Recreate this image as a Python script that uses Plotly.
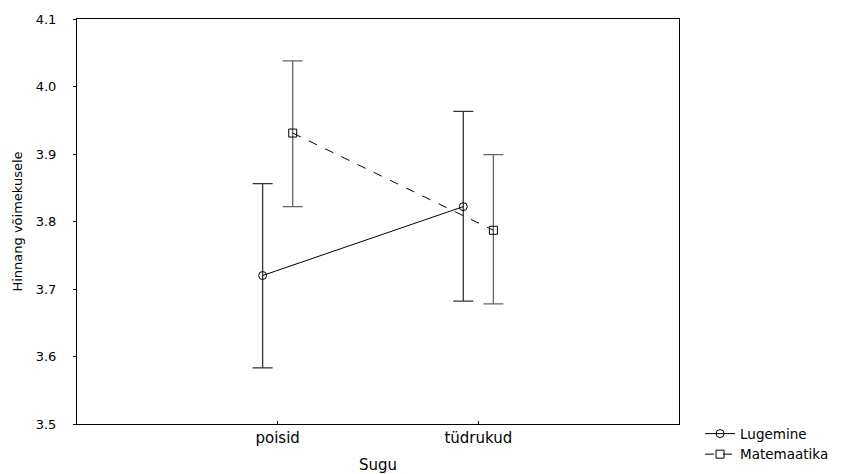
import plotly.graph_objects as go

categories = ["poisid", "tüdrukud"]
cat_pos = [1, 2]

lug_mean = [3.720, 3.822]
lug_upper = [3.856, 3.963]
lug_lower = [3.583, 3.682]

mat_mean = [3.931, 3.787]
mat_upper = [4.038, 3.899]
mat_lower = [3.822, 3.678]

y_ticks = [3.5, 3.6, 3.7, 3.8, 3.9, 4.0, 4.1]
y_ticktext = ["3.5", "3.6", "3.7", "3.8", "3.9", "4.0", "4.1"]

offset = 0.075

def err(mean, upper, lower):
    return dict(type="data", symmetric=False,
                array=[u - m for u, m in zip(upper, mean)],
                arrayminus=[m - l for m, l in zip(mean, lower)],
                thickness=1.3, width=10)

fig = go.Figure()
e1 = err(lug_mean, lug_upper, lug_lower); e1["color"] = "#333333"
fig.add_trace(go.Scatter(
    x=[p - offset for p in cat_pos], y=lug_mean, name="Lugemine",
    mode="lines+markers",
    line=dict(color="black", width=1),
    marker=dict(symbol="circle-open", size=8, color="black", line=dict(width=1)),
    error_y=e1,
))
e2 = err(mat_mean, mat_upper, mat_lower); e2["color"] = "#666666"
fig.add_trace(go.Scatter(
    x=[p + offset for p in cat_pos], y=mat_mean, name="Matemaatika",
    mode="lines+markers",
    line=dict(color="black", width=1, dash="dash"),
    marker=dict(symbol="square-open", size=8, color="black", line=dict(width=1)),
    error_y=e2,
))

font = dict(family="DejaVu Sans, Arial, sans-serif", size=13, color="black")
fig.update_layout(
    width=853, height=474,
    margin=dict(l=77, r=174, t=19, b=50, autoexpand=False),
    paper_bgcolor="white", plot_bgcolor="white",
    font=font,
    showlegend=True,
    legend=dict(x=1.035, y=0.014, xanchor="left", yanchor="top",
                bgcolor="rgba(0,0,0,0)", font=dict(size=13.5),
                tracegroupgap=0, itemwidth=30),
    xaxis=dict(range=[0, 3], tickvals=cat_pos, ticktext=categories,
               showgrid=False, zeroline=False, showline=True, mirror=True,
               linecolor="black", linewidth=1, ticks="inside", ticklen=3,
               tickcolor="black", automargin=False,
               tickfont=dict(size=15),
               title=dict(text="Sugu", font=dict(size=15), standoff=15)),
    yaxis=dict(range=[3.5, 4.1], tickvals=y_ticks, ticktext=y_ticktext,
               showgrid=False, zeroline=False, showline=True, mirror=True,
               linecolor="black", linewidth=1, ticks="outside", ticklen=3,
               tickcolor="black", automargin=False, ticklabelstandoff=14,
               title=dict(text="Hinnang võimekusele", font=dict(size=13), standoff=10)),
)

fig.write_html(
    "out.html",
    config={"displayModeBar": False},
    post_script="document.body.style.margin='0';document.body.style.overflow='hidden';",
)
